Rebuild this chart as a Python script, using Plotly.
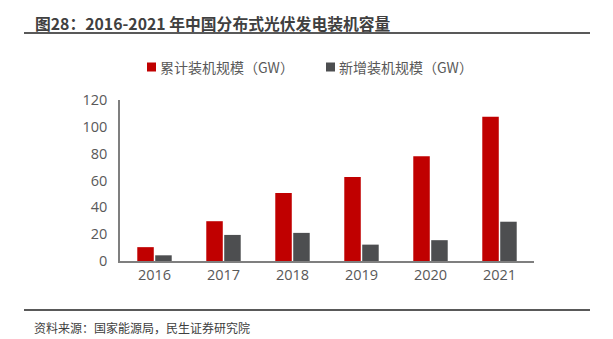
import plotly.graph_objects as go

years = ["2016", "2017", "2018", "2019", "2020", "2021"]
cumulative_gw = [10.32, 29.66, 50.61, 62.63, 78.15, 107.5]
new_gw = [4.24, 19.44, 20.96, 12.2, 15.52, 29.28]
y_ticks = [0, 20, 40, 60, 80, 100, 120]
series_names = ["累计装机规模（GW）", "新增装机规模（GW）"]
series_colors = ["#C00000", "#4D4E50"]

W, H = 613, 339
L, R, T, B = 120, 79, 100, 78
PW, PH = W - L - R, H - T - B

FONT = "Open Sans, Noto Sans CJK SC, sans-serif"
CJK = "Noto Sans CJK SC, sans-serif"
TXT = "#595959"


def px(x):
    # pixel column -> paper x
    return (x - L) / PW


def py(y):
    # pixel row -> paper y
    return (H - B - y) / PH


fig = go.Figure()
for name, color, vals in zip(series_names, series_colors, [cumulative_gw, new_gw]):
    fig.add_trace(go.Bar(x=years, y=vals, name=name, showlegend=False,
                         marker=dict(color=color, line=dict(width=0))))

fig.update_layout(
    width=W, height=H,
    margin=dict(l=L, r=R, t=T, b=B),
    paper_bgcolor="white", plot_bgcolor="white",
    barmode="group", bargap=0.48, bargroupgap=0.08,
    font=dict(family=FONT, size=14, color=TXT),
    showlegend=False,
    xaxis=dict(showline=True, linecolor="#7F7F7F", linewidth=1.5, ticks="",
               tickfont=dict(size=14.5, color=TXT), showgrid=False),
    yaxis=dict(range=[0, 120], tickvals=y_ticks, showline=True, linecolor="#7F7F7F",
               linewidth=1.5, ticks="", showgrid=False, zeroline=False,
               tickfont=dict(size=14.5, color=TXT), ticklabelstandoff=8),
)

# legend row: small square swatch followed by the series name
legend_x = [147, 326]
for lx, name, color in zip(legend_x, series_names, series_colors):
    fig.add_shape(type="rect", xref="paper", yref="paper",
                  x0=px(lx), x1=px(lx + 9), y0=py(71.5), y1=py(62.5),
                  fillcolor=color, line=dict(width=0))
    fig.add_annotation(text=name, xref="paper", yref="paper",
                       x=px(lx + 11), y=py(67), xanchor="left", yanchor="middle",
                       showarrow=False, font=dict(size=14, color=TXT, family=CJK))

fig.add_annotation(text="<b>图28：2016-2021 年中国分布式光伏发电装机容量</b>",
                   xref="paper", yref="paper", x=px(33), y=py(23),
                   xanchor="left", yanchor="middle", showarrow=False,
                   font=dict(size=15.8, color="#404040", family=CJK))
fig.add_annotation(text="资料来源：国家能源局，民生证券研究院",
                   xref="paper", yref="paper", x=px(32), y=py(327),
                   xanchor="left", yanchor="middle", showarrow=False,
                   font=dict(size=12, color="#404040", family=CJK))
for yy in (33, 310):
    fig.add_shape(type="line", xref="paper", yref="paper",
                  x0=px(24), x1=px(590), y0=py(yy), y1=py(yy),
                  line=dict(color="#595959", width=2))

fig.write_html("out.html")
